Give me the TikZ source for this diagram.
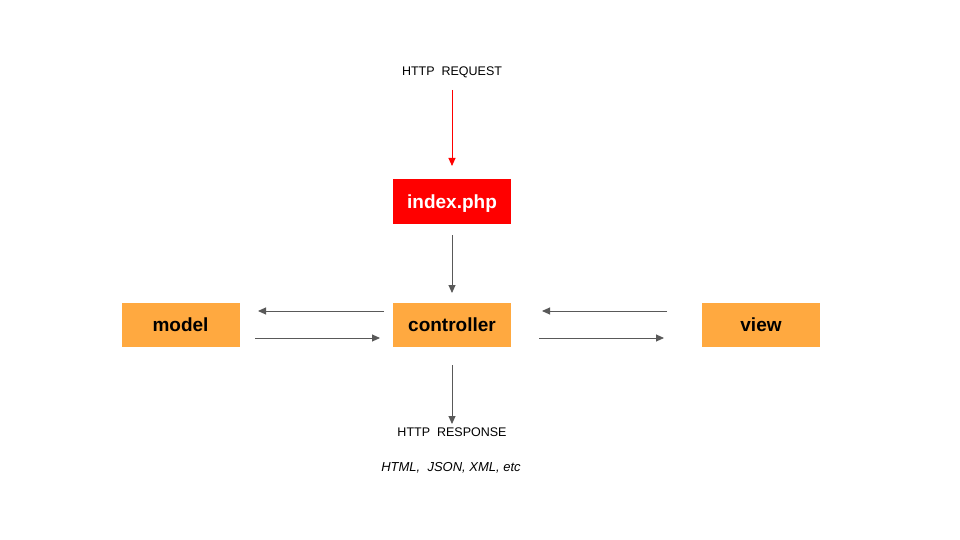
\documentclass[tikz,border=0pt]{standalone}
\usepackage{fontspec}
\setmainfont{Liberation Sans}
\usetikzlibrary{arrows.meta}
\definecolor{boxorange}{HTML}{FFA940}
\definecolor{arrgray}{HTML}{595959}
\tikzset{
  box/.style={minimum width=118pt, minimum height=44pt, inner sep=0pt, text height=14pt, text depth=0pt, font=\fontsize{19}{20}\selectfont\bfseries},
  obox/.style={box, fill=boxorange, text=black},
  rbox/.style={box, fill=red, text=white},
  arr/.style={draw=arrgray, line width=0.9pt, -{Triangle[length=8pt,width=7pt]}},
  redarr/.style={draw=red, line width=0.9pt, -{Triangle[length=8pt,width=7pt]}},
  lbl/.style={font=\fontsize{12.5}{14}\selectfont, inner sep=0pt}
}
\begin{document}
\begin{tikzpicture}[x=1pt,y=-1pt]
\useasboundingbox (0,0) rectangle (960,540);
\node[lbl] (req) at (452,72) {HTTP\ \ REQUEST};
\node[rbox] (index) at (452,201.5) {index.php};
\node[obox] (model) at (180.5,324.5) {model};
\node[obox] (ctrl) at (452,324.5) {controller};
\node[obox] (view) at (761,324.5) {view};
\node[lbl] (resp) at (452,432) {HTTP\ \ RESPONSE};
\node[lbl, font=\fontsize{13}{14}\selectfont\itshape] (fmt) at (451,468) {HTML,\ \ JSON, XML, etc};

\coordinate (r1) at (452,90);
\coordinate (r2) at (452,166);
\coordinate (c1) at (452,235);
\coordinate (c2) at (452,293);
\coordinate (a1) at (384,311);
\coordinate (a2) at (258,311);
\coordinate (b1) at (255,338);
\coordinate (b2) at (380,338);
\coordinate (v1) at (667,311);
\coordinate (v2) at (542,311);
\coordinate (w1) at (539,338);
\coordinate (w2) at (664,338);
\coordinate (d1) at (452,365);
\coordinate (d2) at (452,424);

\draw[redarr] (r1) -- (r2);
\draw[arr] (c1) -- (c2);
\draw[arr] (a1) -- (a2);
\draw[arr] (b1) -- (b2);
\draw[arr] (v1) -- (v2);
\draw[arr] (w1) -- (w2);
\draw[arr] (d1) -- (d2);
\end{tikzpicture}
\end{document}
